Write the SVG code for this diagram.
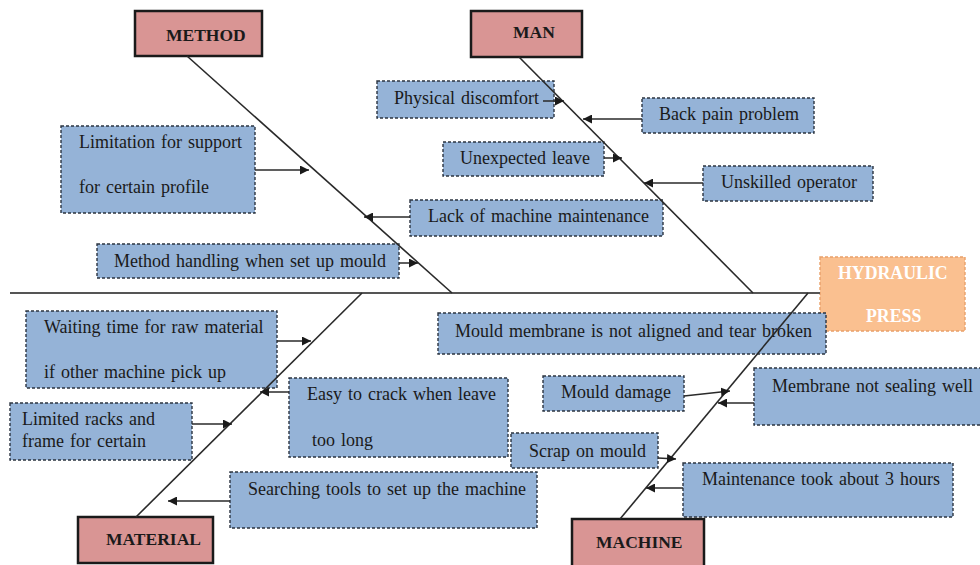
<svg xmlns="http://www.w3.org/2000/svg" width="980" height="565" viewBox="0 0 980 565">
  <style>
    .cat rect { fill: #d99594; stroke: #1a1a1a; stroke-width: 2.5; }
    .cat text { font-family: "Liberation Serif", "Times New Roman", serif; font-weight: bold; font-size: 17.5px; fill: #1a1a1a; }
    .cause rect { fill: #95b3d7; stroke: #2b3440; stroke-width: 1.4; stroke-dasharray: 3 2; }
    .cause text { font-family: "Liberation Serif", "Times New Roman", serif; font-size: 18px; fill: #1a1a1a; word-spacing: 1.5px; }
    .head rect { fill: #fac090; stroke: #e9a06a; stroke-width: 1.4; stroke-dasharray: 3 2; }
    .head text { font-family: "Liberation Serif", "Times New Roman", serif; font-weight: bold; font-size: 17.8px; fill: #ffffff; }
    .spine { stroke: #555555; stroke-width: 2; fill: none; }
    .bone { stroke: #2a2a2a; stroke-width: 1.6; fill: none; }
    .arrow { stroke: #2a2a2a; stroke-width: 1.5; fill: none; marker-end: url(#ah); }
  </style>
  <defs>
    <marker id="ah" markerUnits="userSpaceOnUse" markerWidth="10" markerHeight="9" refX="9" refY="4.5" orient="auto">
      <path d="M0,0 L9,4.5 L0,9 z" fill="#1a1a1a"/>
    </marker>
  </defs>
  <rect width="980" height="565" fill="#ffffff"/>

  <!-- category heads -->
  <g id="method" class="cat"><rect x="135" y="11" width="127" height="45"/><text x="166" y="41">METHOD</text></g>
  <g id="man" class="cat"><rect x="471" y="11" width="111" height="46"/><text x="513" y="38">MAN</text></g>
  <g id="material" class="cat"><rect x="78" y="517" width="135" height="46"/><text x="106" y="545">MATERIAL</text></g>
  <g id="machine" class="cat"><rect x="572" y="519" width="132" height="52"/><text x="596" y="548">MACHINE</text></g>

  <!-- effect -->
  <g id="hydraulic-press" class="head">
    <rect x="820" y="257" width="145" height="74"/>
    <text x="838" y="279">HYDRAULIC</text>
    <text x="866" y="322">PRESS</text>
  </g>

  <!-- method causes -->
  <g id="limitation-support" class="cause">
    <rect x="61" y="126" width="194" height="87"/>
    <text x="79" y="148">Limitation for support</text>
    <text x="79" y="193">for certain profile</text>
  </g>
  <g id="method-handling" class="cause">
    <rect x="97" y="244" width="302" height="34"/>
    <text x="114" y="267">Method handling when set up mould</text>
  </g>

  <!-- man causes -->
  <g id="physical-discomfort" class="cause">
    <rect x="377" y="81" width="177" height="37"/>
    <text x="394" y="104">Physical discomfort</text>
  </g>
  <g id="back-pain" class="cause">
    <rect x="642" y="98" width="172" height="35"/>
    <text x="659" y="120">Back pain problem</text>
  </g>
  <g id="unexpected-leave" class="cause">
    <rect x="443" y="142" width="161" height="34"/>
    <text x="460" y="164">Unexpected leave</text>
  </g>
  <g id="unskilled-operator" class="cause">
    <rect x="703" y="166" width="170" height="35"/>
    <text x="721" y="188">Unskilled operator</text>
  </g>
  <g id="lack-maintenance" class="cause">
    <rect x="410" y="200" width="253" height="36"/>
    <text x="428" y="222">Lack of machine maintenance</text>
  </g>

  <!-- material causes -->
  <g id="waiting-time" class="cause">
    <rect x="26" y="311" width="251" height="77"/>
    <text x="44" y="333">Waiting time for raw material</text>
    <text x="44" y="378">if other machine pick up</text>
  </g>
  <g id="easy-crack" class="cause">
    <rect x="289" y="378" width="219" height="79"/>
    <text x="307" y="400">Easy to crack when leave</text>
    <text x="312" y="446">too long</text>
  </g>
  <g id="limited-racks" class="cause">
    <rect x="10" y="403" width="182" height="57"/>
    <text x="22" y="425">Limited racks and</text>
    <text x="22" y="447">frame for certain</text>
  </g>
  <g id="searching-tools" class="cause">
    <rect x="230" y="472" width="307" height="56"/>
    <text x="248" y="495">Searching tools to set up the machine</text>
  </g>

  <!-- machine causes -->
  <g id="mould-membrane" class="cause">
    <rect x="438" y="313" width="388" height="41"/>
    <text x="455" y="337">Mould membrane is not aligned and tear broken</text>
  </g>
  <g id="mould-damage" class="cause">
    <rect x="543" y="376" width="141" height="35"/>
    <text x="561" y="398">Mould damage</text>
  </g>
  <g id="membrane-sealing" class="cause">
    <rect x="754" y="368" width="232" height="57"/>
    <text x="772" y="392">Membrane not sealing well</text>
  </g>
  <g id="scrap-mould" class="cause">
    <rect x="511" y="433" width="147" height="35"/>
    <text x="529" y="457">Scrap on mould</text>
  </g>
  <g id="maintenance-hours" class="cause">
    <rect x="683" y="463" width="270" height="54"/>
    <text x="702" y="485">Maintenance took about 3 hours</text>
  </g>

  <!-- spine, bones and cause arrows -->
  <g id="connectors">
    <line class="spine" x1="10" y1="293" x2="820" y2="293"/>
    <line class="bone" x1="187" y1="56" x2="452" y2="293"/>
    <line class="bone" x1="519" y1="57" x2="753" y2="293"/>
    <line class="bone" x1="136" y1="517" x2="362" y2="293"/>
    <line class="bone" x1="620" y1="519" x2="808" y2="293"/>

    <path class="arrow" d="M543,101 L564,101"/>
    <path class="arrow" d="M642,119 L583,119"/>
    <path class="arrow" d="M604,158 L622,158"/>
    <path class="arrow" d="M703,183 L644,183"/>
    <path class="arrow" d="M410,217 L364,217"/>
    <path class="arrow" d="M255,170 L309,170"/>
    <path class="arrow" d="M399,263 L418,263"/>

    <path class="arrow" d="M277,341 L311,341"/>
    <path class="arrow" d="M289,392 L260,392"/>
    <path class="arrow" d="M192,424 L232,424"/>
    <path class="arrow" d="M230,501 L168,501"/>

    <path class="arrow" d="M684,396 L730,391"/>
    <path class="arrow" d="M754,403 L718,403"/>
    <path class="arrow" d="M658,458 L676,459"/>
    <path class="arrow" d="M683,488 L646,488"/>
  </g>
</svg>
